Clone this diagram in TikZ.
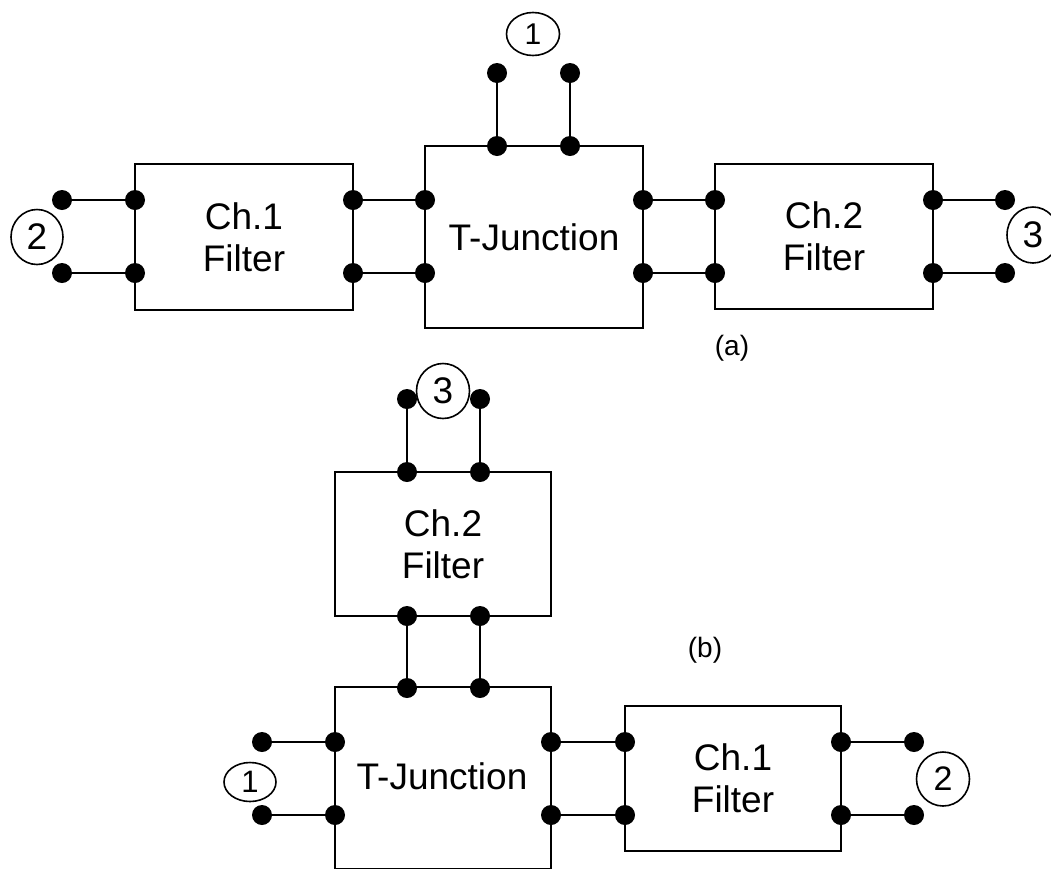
\documentclass[tikz,border=0pt]{standalone}
\usepackage{fontspec}
\setmainfont{Liberation Sans}
\usetikzlibrary{shapes.geometric}
\begin{document}
\begin{tikzpicture}[x=1pt,y=-1pt,
  blk/.style={draw, line width=2.5pt, rectangle, inner sep=0pt, align=center,
    font=\fontsize{37}{42}\selectfont},
  dot/.style={circle, fill=black, inner sep=0pt, minimum size=20pt},
  wire/.style={line width=2.5pt},
  port/.style={ellipse, draw, line width=1.6pt, inner sep=0pt},
  sublabel/.style={font=\fontsize{28}{32}\selectfont, inner sep=0pt}]
\useasboundingbox (0,0) rectangle (1051,868);
\clip (0,0) rectangle (1051,868);
% ---------- (a) ----------
\node[blk, minimum width=218pt, minimum height=146pt] (ch1a) at (244,237) {Ch.1\\Filter};
\node[blk, minimum width=218pt, minimum height=182pt] (tja) at (534,237) {T-Junction};
\node[blk, minimum width=218pt, minimum height=145pt] (ch2a) at (824,236.5) {Ch.2\\Filter};
% dots (a)
\node[dot] (p2at) at (62,200) {};
\node[dot] (p2ab) at (62,273) {};
\node[dot] (c1alt) at (135,200) {};
\node[dot] (c1alb) at (135,273) {};
\node[dot] (c1art) at (353,200) {};
\node[dot] (c1arb) at (353,273) {};
\node[dot] (talt) at (425,200) {};
\node[dot] (talb) at (425,273) {};
\node[dot] (tat1) at (497,146) {};
\node[dot] (tat2) at (570,146) {};
\node[dot] (p1a1) at (497,73) {};
\node[dot] (p1a2) at (570,73) {};
\node[dot] (tart) at (643,200) {};
\node[dot] (tarb) at (643,273) {};
\node[dot] (c2alt) at (715,200) {};
\node[dot] (c2alb) at (715,273) {};
\node[dot] (c2art) at (933,200) {};
\node[dot] (c2arb) at (933,273) {};
\node[dot] (p3at) at (1005,200) {};
\node[dot] (p3ab) at (1005,273) {};
\draw[wire] (p2at.center) -- (c1alt.center);
\draw[wire] (p2ab.center) -- (c1alb.center);
\draw[wire] (c1art.center) -- (talt.center);
\draw[wire] (c1arb.center) -- (talb.center);
\draw[wire] (p1a1.center) -- (tat1.center);
\draw[wire] (p1a2.center) -- (tat2.center);
\draw[wire] (tart.center) -- (c2alt.center);
\draw[wire] (tarb.center) -- (c2alb.center);
\draw[wire] (c2art.center) -- (p3at.center);
\draw[wire] (c2arb.center) -- (p3ab.center);
% port labels (a)
\node[port, minimum width=52pt, minimum height=55pt, font=\fontsize{37}{40}\selectfont] (n2a) at (37,237) {2};
\node[port, minimum width=53pt, minimum height=43pt, font=\fontsize{30}{32}\selectfont] (n1a) at (533,34) {1};
\node[port, minimum width=52pt, minimum height=56pt, font=\fontsize{37}{40}\selectfont] (n3a) at (1033,235) {3};
\node[sublabel] (capa) at (732,348) {(a)};
% ---------- (b) ----------
\node[blk, minimum width=216pt, minimum height=144pt] (ch2b) at (443,544) {Ch.2\\Filter};
\node[blk, minimum width=216pt, minimum height=182pt] (tjb) at (443,778) {};
\node[font=\fontsize{37}{42}\selectfont, inner sep=0pt] (tjbl) at (442,776) {T-Junction};
\node[blk, minimum width=216pt, minimum height=145pt] (ch1b) at (733,778.5) {Ch.1\\Filter};
\node[dot] (p3b1) at (407,399) {};
\node[dot] (p3b2) at (480,399) {};
\node[dot] (c2bt1) at (407,472) {};
\node[dot] (c2bt2) at (480,472) {};
\node[dot] (c2bb1) at (407,616) {};
\node[dot] (c2bb2) at (480,616) {};
\node[dot] (tbt1) at (407,688) {};
\node[dot] (tbt2) at (480,688) {};
\node[dot] (p1bt) at (262,742) {};
\node[dot] (p1bb) at (262,815) {};
\node[dot] (tblt) at (335,742) {};
\node[dot] (tblb) at (335,815) {};
\node[dot] (tbrt) at (551,742) {};
\node[dot] (tbrb) at (551,815) {};
\node[dot] (c1blt) at (625,742) {};
\node[dot] (c1blb) at (625,815) {};
\node[dot] (c1brt) at (841,742) {};
\node[dot] (c1brb) at (841,815) {};
\node[dot] (p2bt) at (914,742) {};
\node[dot] (p2bb) at (914,815) {};
\draw[wire] (p3b1.center) -- (c2bt1.center);
\draw[wire] (p3b2.center) -- (c2bt2.center);
\draw[wire] (c2bb1.center) -- (tbt1.center);
\draw[wire] (c2bb2.center) -- (tbt2.center);
\draw[wire] (p1bt.center) -- (tblt.center);
\draw[wire] (p1bb.center) -- (tblb.center);
\draw[wire] (tbrt.center) -- (c1blt.center);
\draw[wire] (tbrb.center) -- (c1blb.center);
\draw[wire] (c1brt.center) -- (p2bt.center);
\draw[wire] (c1brb.center) -- (p2bb.center);
\node[port, fill=white, minimum width=53pt, minimum height=55pt, font=\fontsize{37}{40}\selectfont] (n3b) at (443,391) {3};
\node[port, minimum width=52pt, minimum height=39pt, font=\fontsize{31}{32}\selectfont] (n1b) at (250,782) {1};
\node[port, minimum width=53pt, minimum height=54pt, font=\fontsize{34}{36}\selectfont] (n2b) at (943,779) {2};
\node[sublabel] (capb) at (705,650) {(b)};
\end{tikzpicture}
\end{document}
